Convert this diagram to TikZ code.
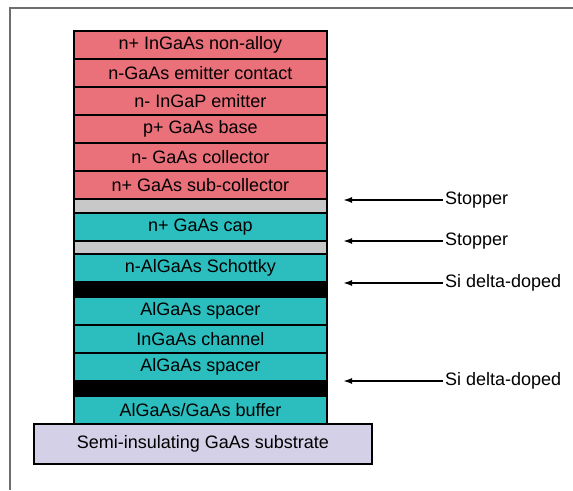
\documentclass[tikz,border=0pt]{standalone}
\usepackage{fontspec}
\setmainfont{Liberation Sans}
\usetikzlibrary{arrows.meta}

\definecolor{hbtred}{RGB}{234,112,122}
\definecolor{hemtcyan}{RGB}{44,190,190}
\definecolor{stopgray}{RGB}{200,200,200}
\definecolor{subslilac}{RGB}{212,208,232}
\definecolor{framegray}{RGB}{110,110,110}

\tikzset{
    layer/.style={draw=black, line width=1.8pt, anchor=north west, inner sep=0pt,
        minimum width=253pt, minimum height=28pt, font=\fontsize{18}{18}\selectfont},
    hbt/.style={layer, fill=hbtred},
    hemt/.style={layer, fill=hemtcyan},
    stopbox/.style={layer, fill=stopgray, minimum height=14pt},
    dopebox/.style={layer, fill=black, minimum height=15pt},
    lbl/.style={anchor=west, inner sep=2pt, font=\fontsize{18}{18}\selectfont},
    arr/.style={line width=1.6pt, -{Latex[length=9pt, width=6pt]}}
}

\begin{document}
\begin{tikzpicture}[x=1pt, y=-1pt]
            \useasboundingbox ( 0, 0 ) rectangle ( 573, 490 );
            % рамка
            \draw [framegray, line width=1.5pt] ( 10, 490 ) -- ( 10, 8 ) -- ( 573, 8 );

            % слои HBT
            \node [hbt] (nonalloy) at ( 73, 30 ) {n+ InGaAs non-alloy};
            \node [hbt] (emcont) at ( 73, 58 ) {n-GaAs emitter contact};
            \node [hbt] (emitter) at ( 73, 86 ) {n- InGaP emitter};
            \node [hbt] (base) at ( 73, 114 ) {p+ GaAs base};
            \node [hbt] (collector) at ( 73, 142 ) {n- GaAs collector};
            \node [hbt] (subcoll) at ( 73, 170 ) {n+ GaAs sub-collector};
            \node [stopbox] (stopA) at ( 73, 198 ) {};

            % слои HEMT
            \node [hemt] (cap) at ( 73, 212 ) {n+ GaAs cap};
            \node [stopbox, minimum height=13pt] (stopB) at ( 73, 240 ) {};
            \node [hemt] (schottky) at ( 73, 253 ) {n-AlGaAs Schottky};
            \node [dopebox] (deltaA) at ( 73, 281 ) {};
            \node [hemt] (spacerA) at ( 73, 296 ) {AlGaAs spacer};
            \node [hemt] (channel) at ( 73, 324 ) {InGaAs channel};
            \node [hemt] (spacerB) at ( 73, 352 ) {AlGaAs spacer};
            \node [dopebox] (deltaB) at ( 73, 380 ) {};
            \node [hemt] (buffer) at ( 73, 395 ) {AlGaAs/GaAs buffer};

            % подложка
            \node [layer, fill=subslilac, minimum width=338pt, minimum height=40pt] (substrate) at ( 33, 423 ) {Semi-insulating GaAs substrate};

            % подписи
            \coordinate (tipA) at ( 343, 200 );
            \coordinate (tipB) at ( 343, 241 );
            \coordinate (tipC) at ( 343, 283 );
            \coordinate (tipD) at ( 343, 381 );
            \node [lbl] (labA) at ( 443, 200 ) {Stopper};
            \node [lbl] (labB) at ( 443, 241 ) {Stopper};
            \node [lbl] (labC) at ( 443, 283 ) {Si delta-doped};
            \node [lbl] (labD) at ( 443, 381 ) {Si delta-doped};
            \draw [arr] (labA.west) -- (tipA);
            \draw [arr] (labB.west) -- (tipB);
            \draw [arr] (labC.west) -- (tipC);
            \draw [arr] (labD.west) -- (tipD);
        \end{tikzpicture}
\end{document}
